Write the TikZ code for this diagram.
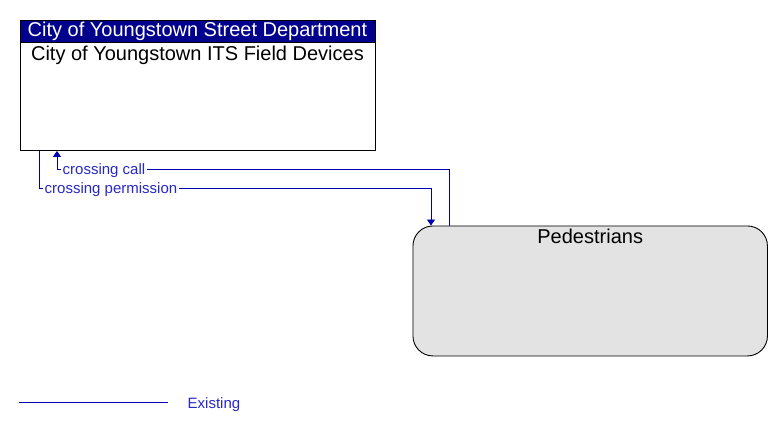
\documentclass[tikz,border=0pt]{standalone}
\usepackage{fontspec}
\setmainfont{Liberation Sans}
\usetikzlibrary{positioning,calc,arrows.meta}

\definecolor{headblue}{RGB}{0,0,140}
\definecolor{flowblue}{RGB}{0,0,175}
\definecolor{labelblue}{RGB}{40,40,200}
\definecolor{extgray}{RGB}{227,227,227}

\tikzset{
	element/.style={draw=black,line width=0.9pt,anchor=north west,inner sep=0pt},
	elemtext/.style={anchor=north,font=\fontsize{20}{22}\selectfont,inner sep=3pt},
	flow/.style={draw=flowblue,line width=0.9pt,-{Triangle[length=6pt,width=8pt]}},
	flowlabel/.style={text=labelblue,font=\fontsize{15}{16}\selectfont,inner sep=1.5pt,fill=white},
}

\begin{document}
\begin{tikzpicture}[x=1pt,y=-1pt]
		\useasboundingbox (0,0) rectangle (783,431);
		
		% field devices
		\node[element,fill=white,minimum width=355pt,minimum height=130.5pt] (fd) at (19.5,19.5) {};
		\node[element,fill=headblue,minimum width=355pt,minimum height=22.5pt] (fdhead) at (19.5,19.5)
			{\color{white}\fontsize{20}{22}\selectfont\raisebox{-1pt}{City of Youngstown Street Department}};
		\node[elemtext] (fdname) at (fdhead.south) {City of Youngstown ITS Field Devices};
		
		% pedestrians
		\node[element,fill=extgray,rounded corners=20pt,minimum width=354.5pt,minimum height=130pt] (ped) at (412.5,225.5) {};
		\node[elemtext] (pedname) at (ped.north) {Pedestrians};
		
		% flow ends
		\coordinate (callend) at ($(fd.south west)+(37.5,0)$);
		\coordinate (permstart) at ($(fd.south west)+(19.5,0)$);
		\coordinate (callstart) at ($(ped.north west)+(36.5,0)$);
		\coordinate (permend) at ($(ped.north west)+(18.5,0)$);
		
		% crossing call
		\draw[flow] (callstart) |- ($(callend)+(0,19)$) -- (callend);
		\node[flowlabel,anchor=west] (calllbl) at ($(callend)+(4,20)$) {crossing call};
		
		% crossing permission
		\draw[flow] (permstart) |- ($(permstart)+(0,38)$) -| (permend);
		\node[flowlabel,anchor=west] (permlbl) at ($(permstart)+(4,39)$) {crossing permission};
		
		% legend
		\coordinate (lgstart) at (19,402);
		\coordinate (lgend) at (168,402);
		\draw[flowblue,line width=0.9pt] (lgstart) -- (lgend);
		\node[flowlabel,anchor=west] (lgtext) at ($(lgend)+(18,2.5)$) {Existing};
\end{tikzpicture}
\end{document}
